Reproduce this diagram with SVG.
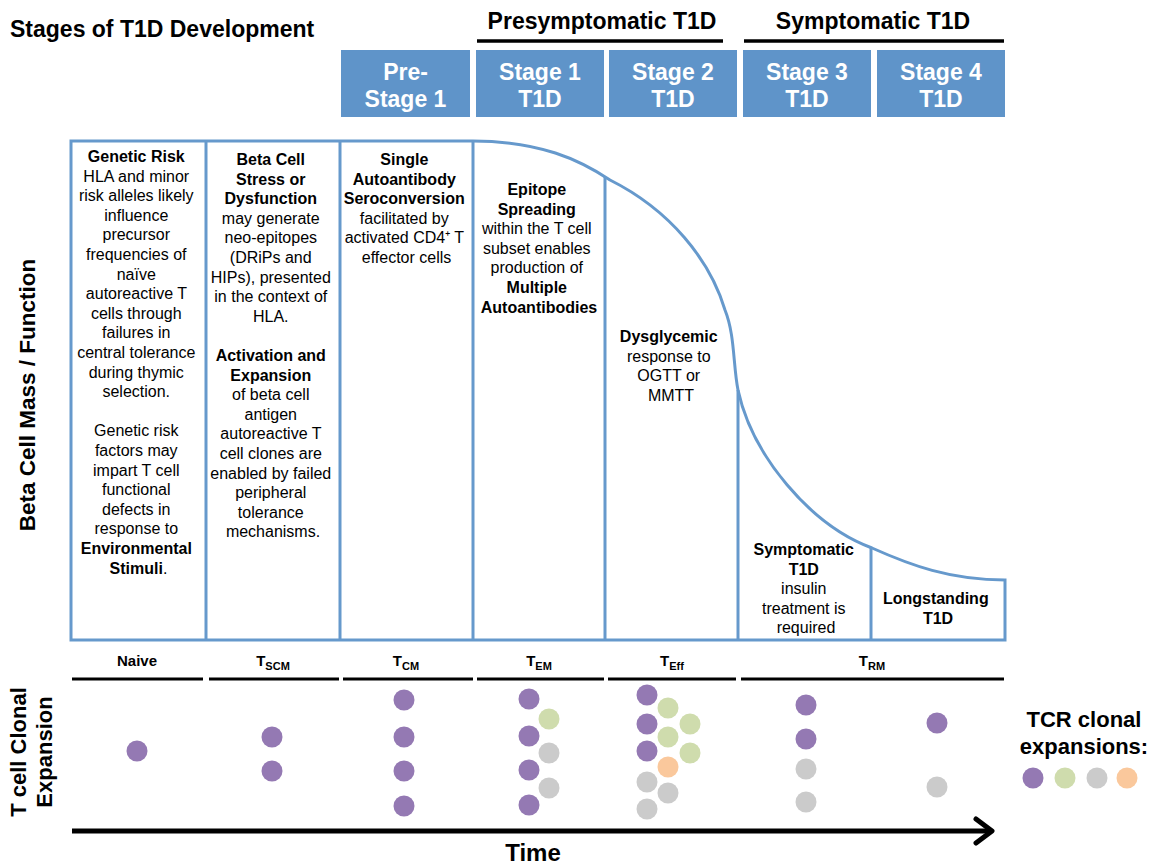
<svg xmlns="http://www.w3.org/2000/svg" width="1149" height="866" viewBox="0 0 1149 866">
<defs>
<style>
text{font-family:"Liberation Sans",Arial,sans-serif;fill:#000}
.title{font-size:22px;font-weight:bold}
.head{font-size:23px;font-weight:bold}
.box{fill:#5f94c9}
.bt{font-size:23px;font-weight:bold;fill:#fff;text-anchor:middle}
.col{font-size:16px;text-anchor:middle}
.b{font-weight:bold}
.pl{fill:none;stroke:#6699cc;stroke-width:3}
.hl{stroke:#000;stroke-width:3.5}
.sl{stroke:#000;stroke-width:3}
.lab{font-size:15px;font-weight:bold;text-anchor:middle}
.sub{font-size:11px}
.p{fill:#9479b3}.g{fill:#cfdcad}.y{fill:#cbcbcb}.o{fill:#fac89c}
</style>
</defs>
<rect width="1149" height="866" fill="#fff"/>

<g id="header">
<text class="head" x="10" y="37">Stages of T1D Development</text>
<text class="head" x="602" y="29" text-anchor="middle">Presymptomatic T1D</text>
<line class="hl" x1="477" y1="41" x2="723" y2="41"/>
<text class="head" x="873" y="29" text-anchor="middle">Symptomatic T1D</text>
<line class="hl" x1="744" y1="41" x2="1004" y2="41"/>
</g>

<g id="stage-pre"><rect class="box" x="341" y="50" width="129" height="67"/><text class="bt" x="405.5" y="80">Pre-</text><text class="bt" x="405.5" y="107">Stage 1</text></g>
<g id="stage-1"><rect class="box" x="476" y="50" width="128" height="67"/><text class="bt" x="540" y="80">Stage 1</text><text class="bt" x="540" y="107">T1D</text></g>
<g id="stage-2"><rect class="box" x="609" y="50" width="128" height="67"/><text class="bt" x="673" y="80">Stage 2</text><text class="bt" x="673" y="107">T1D</text></g>
<g id="stage-3"><rect class="box" x="743" y="50" width="128" height="67"/><text class="bt" x="807" y="80">Stage 3</text><text class="bt" x="807" y="107">T1D</text></g>
<g id="stage-4"><rect class="box" x="877" y="50" width="128" height="67"/><text class="bt" x="941" y="80">Stage 4</text><text class="bt" x="941" y="107">T1D</text></g>

<g id="panel">
<path class="pl" d="M71,141 H473 C540,141 580,160 610,180 C670,210 710,260 725,310 C735,335 733,365 738,390 C752,455 810,525 872,548 C910,565 950,580 1005,580 V640 H71 Z"/>
<line class="pl" x1="206" y1="141" x2="206" y2="640"/>
<line class="pl" x1="340" y1="141" x2="340" y2="640"/>
<line class="pl" x1="473" y1="141" x2="473" y2="640"/>
<line class="pl" x1="605" y1="177" x2="605" y2="640"/>
<line class="pl" x1="738" y1="390" x2="738" y2="640"/>
<line class="pl" x1="871" y1="548" x2="871" y2="640"/>
</g>

<g id="ylabel"><text class="title" style="font-size:22.5px" transform="translate(35,395) rotate(-90)" text-anchor="middle">Beta Cell Mass / Function</text></g>

<g id="col-genetic">
<text class="col">
<tspan x="138.5" y="162" class="b">Genetic Risk</tspan>
<tspan x="138.5" y="181.6">HLA and minor</tspan>
<tspan x="138.5" y="201.2">risk alleles likely</tspan>
<tspan x="138.5" y="220.8">influence</tspan>
<tspan x="138.5" y="240.4">precursor</tspan>
<tspan x="138.5" y="260">frequencies of</tspan>
<tspan x="138.5" y="279.6">naïve</tspan>
<tspan x="138.5" y="299.2">autoreactive T</tspan>
<tspan x="138.5" y="318.8">cells through</tspan>
<tspan x="138.5" y="338.4">failures in</tspan>
<tspan x="138.5" y="358">central tolerance</tspan>
<tspan x="138.5" y="377.6">during thymic</tspan>
<tspan x="138.5" y="397.2">selection.</tspan>
<tspan x="138.5" y="436.4">Genetic risk</tspan>
<tspan x="138.5" y="456">factors may</tspan>
<tspan x="138.5" y="475.6">impart T cell</tspan>
<tspan x="138.5" y="495.2">functional</tspan>
<tspan x="138.5" y="514.8">defects in</tspan>
<tspan x="138.5" y="534.4">response to</tspan>
<tspan x="138.5" y="554" class="b">Environmental</tspan>
<tspan x="138.5" y="573.6"><tspan class="b">Stimuli</tspan>.</tspan>
</text>
</g>

<g id="col-beta">
<text class="col">
<tspan x="273" y="165" class="b">Beta Cell</tspan>
<tspan x="273" y="184.6" class="b">Stress or</tspan>
<tspan x="273" y="204.2" class="b">Dysfunction</tspan>
<tspan x="273" y="223.8">may generate</tspan>
<tspan x="273" y="243.4">neo-epitopes</tspan>
<tspan x="273" y="263">(DRiPs and</tspan>
<tspan x="273" y="282.6">HIPs), presented</tspan>
<tspan x="273" y="302.2">in the context of</tspan>
<tspan x="273" y="321.8">HLA.</tspan>
<tspan x="273" y="361" class="b">Activation and</tspan>
<tspan x="273" y="380.6" class="b">Expansion</tspan>
<tspan x="273" y="400.2">of beta cell</tspan>
<tspan x="273" y="419.8">antigen</tspan>
<tspan x="273" y="439.4">autoreactive T</tspan>
<tspan x="273" y="459">cell clones are</tspan>
<tspan x="273" y="478.6">enabled by failed</tspan>
<tspan x="273" y="498.2">peripheral</tspan>
<tspan x="273" y="517.8">tolerance</tspan>
<tspan x="273" y="537.4">mechanisms.</tspan>
</text>
</g>

<g id="col-single">
<text class="col">
<tspan x="406.5" y="165" class="b">Single</tspan>
<tspan x="406.5" y="184.6" class="b">Autoantibody</tspan>
<tspan x="406.5" y="204.2" class="b">Seroconversion</tspan>
<tspan x="406.5" y="223.8">facilitated by</tspan>
<tspan x="406.5" y="243.4">activated CD4⁺ T</tspan>
<tspan x="406.5" y="263">effector cells</tspan>
</text>
</g>

<g id="col-epitope">
<text class="col">
<tspan x="539" y="195" class="b">Epitope</tspan>
<tspan x="539" y="214.6" class="b">Spreading</tspan>
<tspan x="539" y="234.2">within the T cell</tspan>
<tspan x="539" y="253.8">subset enables</tspan>
<tspan x="539" y="273.4">production of</tspan>
<tspan x="539" y="293" class="b">Multiple</tspan>
<tspan x="539" y="312.6" class="b">Autoantibodies</tspan>
</text>
</g>

<g id="col-dysglycemic">
<text class="col">
<tspan x="671" y="342" class="b">Dysglycemic</tspan>
<tspan x="671" y="361.6">response to</tspan>
<tspan x="671" y="381.2">OGTT or</tspan>
<tspan x="671" y="400.8">MMTT</tspan>
</text>
</g>

<g id="col-symptomatic">
<text class="col">
<tspan x="806" y="555" class="b">Symptomatic</tspan>
<tspan x="806" y="574.6" class="b">T1D</tspan>
<tspan x="806" y="594.2">insulin</tspan>
<tspan x="806" y="613.8">treatment is</tspan>
<tspan x="806" y="633.4">required</tspan>
</text>
</g>

<g id="col-longstanding">
<text class="col">
<tspan x="938" y="604" class="b">Longstanding</tspan>
<tspan x="938" y="623.6" class="b">T1D</tspan>
</text>
</g>

<g id="tcell-labels">
<text class="lab" x="137" y="666">Naive</text>
<text class="lab" x="273" y="666">T<tspan class="sub" dy="4">SCM</tspan></text>
<text class="lab" x="406" y="666">T<tspan class="sub" dy="4">CM</tspan></text>
<text class="lab" x="539" y="666">T<tspan class="sub" dy="4">EM</tspan></text>
<text class="lab" x="672" y="666">T<tspan class="sub" dy="4">Eff</tspan></text>
<text class="lab" x="872" y="666">T<tspan class="sub" dy="4">RM</tspan></text>
<line class="sl" x1="72" y1="679" x2="203" y2="679"/>
<line class="sl" x1="209" y1="679" x2="339" y2="679"/>
<line class="sl" x1="343" y1="679" x2="473" y2="679"/>
<line class="sl" x1="477" y1="679" x2="604" y2="679"/>
<line class="sl" x1="608" y1="679" x2="736" y2="679"/>
<line class="sl" x1="741" y1="679" x2="1004" y2="679"/>
</g>

<g id="ylabel2">
<text class="title" transform="translate(26,752) rotate(-90)" text-anchor="middle">T cell Clonal</text>
<text class="title" transform="translate(52,752) rotate(-90)" text-anchor="middle">Expansion</text>
</g>

<g id="dots">
<circle class="p" cx="137" cy="751" r="10.5"/>
<circle class="p" cx="272" cy="737" r="10.5"/>
<circle class="p" cx="272" cy="771" r="10.5"/>
<circle class="p" cx="404" cy="700" r="10.5"/>
<circle class="p" cx="404" cy="737" r="10.5"/>
<circle class="p" cx="404" cy="771" r="10.5"/>
<circle class="p" cx="404" cy="806" r="10.5"/>
<circle class="p" cx="529" cy="699" r="10.5"/>
<circle class="p" cx="529" cy="736" r="10.5"/>
<circle class="p" cx="529" cy="770" r="10.5"/>
<circle class="p" cx="529" cy="805" r="10.5"/>
<circle class="g" cx="549" cy="719" r="10.5"/>
<circle class="y" cx="549" cy="753" r="10.5"/>
<circle class="y" cx="549" cy="788" r="10.5"/>
<circle class="p" cx="647" cy="695" r="10.5"/>
<circle class="p" cx="647" cy="724" r="10.5"/>
<circle class="p" cx="647" cy="751" r="10.5"/>
<circle class="g" cx="668" cy="708" r="10.5"/>
<circle class="g" cx="690" cy="724" r="10.5"/>
<circle class="g" cx="668" cy="737" r="10.5"/>
<circle class="g" cx="690" cy="753" r="10.5"/>
<circle class="o" cx="668" cy="767" r="10.5"/>
<circle class="y" cx="647" cy="782" r="10.5"/>
<circle class="y" cx="668" cy="793" r="10.5"/>
<circle class="y" cx="647" cy="809" r="10.5"/>
<circle class="p" cx="806" cy="705" r="10.5"/>
<circle class="p" cx="806" cy="739" r="10.5"/>
<circle class="y" cx="806" cy="769" r="10.5"/>
<circle class="y" cx="806" cy="802" r="10.5"/>
<circle class="p" cx="937" cy="723" r="10.5"/>
<circle class="y" cx="937" cy="787" r="10.5"/>
</g>

<g id="legend">
<text class="title" x="1084" y="727" text-anchor="middle">TCR clonal</text>
<text class="title" x="1084" y="754" text-anchor="middle">expansions:</text>
<circle class="p" cx="1033" cy="778" r="10.5"/>
<circle class="g" cx="1065" cy="778" r="10.5"/>
<circle class="y" cx="1097" cy="778" r="10.5"/>
<circle class="o" cx="1127" cy="778" r="10.5"/>
</g>

<g id="connectors">
<line x1="72" y1="831" x2="990" y2="831" stroke="#000" stroke-width="5"/>
<polyline points="976,819 992,831 976,843" fill="none" stroke="#000" stroke-width="5" stroke-linecap="round" stroke-linejoin="round"/>
</g>
<g id="time"><text x="533" y="861" text-anchor="middle" style="font-size:24px;font-weight:bold">Time</text></g>
</svg>
